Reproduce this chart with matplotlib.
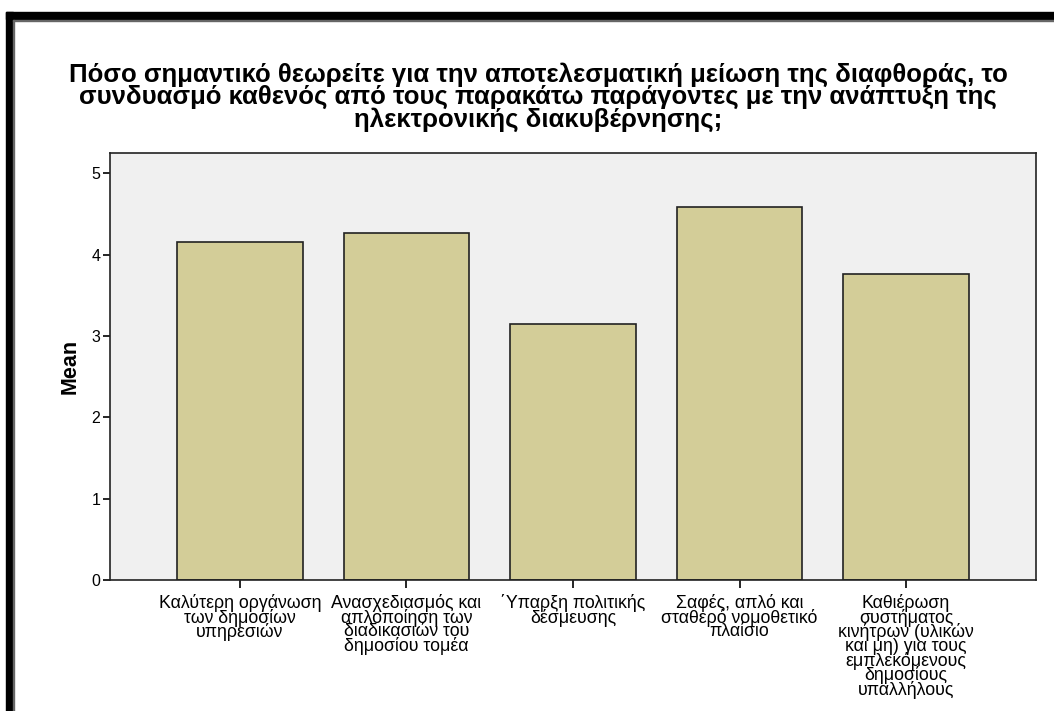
import matplotlib
matplotlib.use("Agg")
import matplotlib.pyplot as plt
from matplotlib.patches import Rectangle

plt.rcParams['font.family'] = ['Liberation Sans', 'DejaVu Sans']

# data
categories = [
    "Καλύτερη οργάνωση\nτων δημοσίων\nυπηρεσιών",
    "Ανασχεδιασμός και\nαπλοποίηση των\nδιαδικασιών του\nδημοσίου τομέα",
    "΄Υπαρξη πολιτικής\nδέσμευσης",
    "Σαφές, απλό και\nσταθερό νομοθετικό\nπλαίσιο",
    "Καθιέρωση\nσυστήματος\nκινήτρων (υλικών\nκαι μη) για τους\nεμπλεκόμενους\nδημοσίους\nυπαλλήλους",
]
means = [4.16, 4.27, 3.15, 4.58, 3.76]
yticks = [0, 1, 2, 3, 4, 5]
title = ("Πόσο σημαντικό θεωρείτε για την αποτελεσματική μείωση της διαφθοράς, το\n"
         "συνδυασμό καθενός από τους παρακάτω παράγοντες με την ανάπτυξη της\n"
         "ηλεκτρονικής διακυβέρνησης;")

W, H = 1054, 711
fig = plt.figure(figsize=(W / 100, H / 100), dpi=100)
ax = fig.add_axes([110 / W, 1 - 580 / H, 926 / W, 427 / H])
ax.set_facecolor('#F0F0F0')

x = range(len(categories))
ax.bar(x, means, width=0.755, color='#D3CD98', edgecolor='#222222', linewidth=1.2)

ax.set_xlim(-0.78, len(categories) - 1 + 0.78)
ax.set_ylim(0, 5.25)
ax.set_yticks(yticks)
ax.set_xticks(list(x))
ax.set_xticklabels(categories, fontsize=12.8, linespacing=0.76)
ax.tick_params(axis='y', labelsize=11.5, length=5, width=1.2, pad=2)
ax.tick_params(axis='x', length=6, width=1.2, pad=4)
for s in ax.spines.values():
    s.set_linewidth(1.2)
    s.set_color('#222222')

ax.set_ylabel("Mean", fontsize=15.5, fontweight='bold', labelpad=8)

fig.text(538 / W, 1 - 62 / H, title, ha='center', va='top',
         fontsize=18.5, fontweight='bold', linespacing=0.92)

# frame lines of the screenshot
def band(x0, y0, w, h, c):
    fig.patches.append(Rectangle((x0 / W, 1 - (y0 + h) / H), w / W, h / H,
                                 transform=fig.transFigure, color=c, zorder=10))

band(6, 12, W, 6.5, 'black')
band(6, 12, 6.5, H, 'black')
band(13, 19.5, W, 1.2, '#666666')
band(13, 19.5, 1.2, H, '#666666')

fig.savefig("out.png", dpi=100, facecolor='white')
